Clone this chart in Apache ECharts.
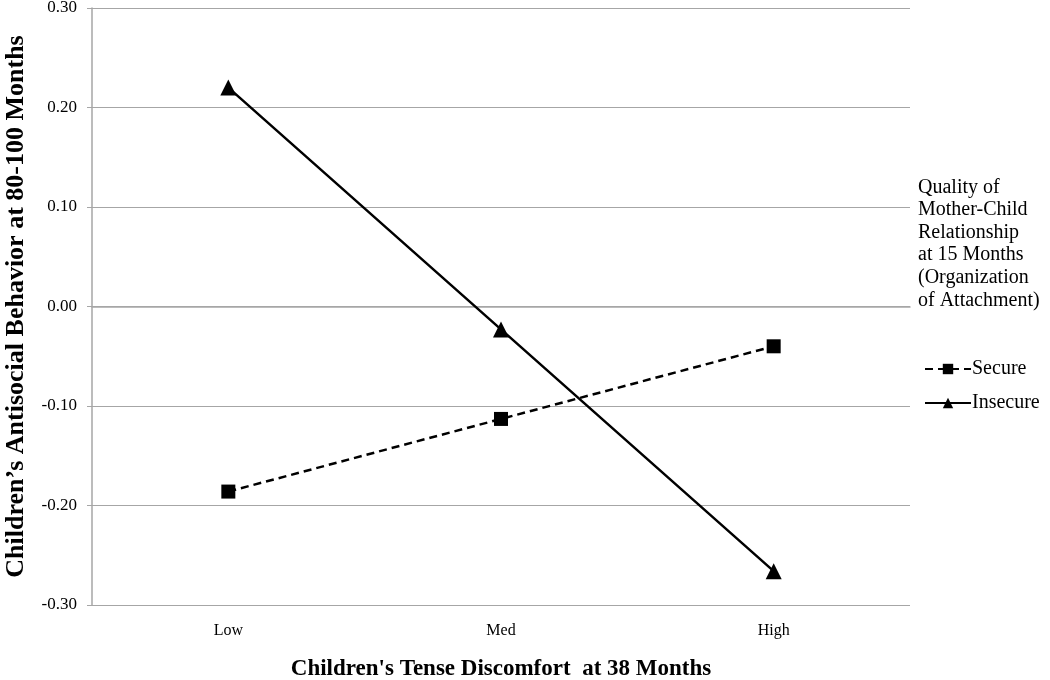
<!DOCTYPE html>
<html><head><meta charset="utf-8">
<script src="https://cdn.jsdelivr.net/npm/echarts@6/dist/echarts.min.js"></script>
<style>html,body{margin:0;padding:0;background:#fff}#c{width:1050px;height:680px}</style>
</head><body><div id="c"></div>
<script>
const categories = ['Low', 'Med', 'High'];
const secure = [-0.186, -0.113, -0.040];
const insecure = [0.220, -0.023, -0.266];
const yTicks = [-0.3, -0.2, -0.1, 0, 0.1, 0.2, 0.3];
const legendTitle = ['Quality of', 'Mother-Child', 'Relationship', 'at 15 Months', '(Organization', 'of Attachment)'];

const font = '"Liberation Serif", "Times New Roman", serif';
const chart = echarts.init(document.getElementById('c'), null, {renderer: 'canvas'});
chart.setOption({
  animation: false,
  backgroundColor: '#fff',
  grid: {left: 92, right: 140, top: 8, bottom: 75, containLabel: false, outerBoundsMode: 'none'},
  xAxis: {
    type: 'category', data: categories, boundaryGap: true,
    axisLine: {lineStyle: {color: '#a6a6a6', width: 1.5}},
    axisTick: {show: false},
    axisLabel: {fontFamily: font, fontSize: 16, color: '#000', margin: 18},
    name: "Children's Tense Discomfort  at 38 Months", nameLocation: 'middle', nameGap: 53,
    nameTextStyle: {fontFamily: font, fontSize: 23, fontWeight: 'bold', color: '#000'}
  },
  yAxis: {
    type: 'value', min: yTicks[0], max: yTicks[yTicks.length-1], interval: 0.1,
    axisLine: {show: true, lineStyle: {color: '#a6a6a6', width: 1.5}},
    axisTick: {show: true, inside: false, length: 5, lineStyle: {color: '#a6a6a6'}},
    splitLine: {lineStyle: {color: '#a6a6a6', width: 1}},
    axisLabel: {fontFamily: font, fontSize: 17, color: '#000', margin: 15,
      formatter: v => v.toFixed(2)},
    name: "Children’s Antisocial Behavior at 80-100 Months", nameLocation: 'middle', nameGap: 63,
    nameTextStyle: {fontFamily: font, fontSize: 26, fontWeight: 'bold', color: '#000'}
  },
  legend: {
    orient: 'vertical', left: 919, top: 354, itemGap: 14, itemWidth: 46, itemHeight: 13,
    textStyle: {fontFamily: font, fontSize: 20, color: '#000', padding: [0,0,0,-4]},
    data: ['Secure', 'Insecure']
  },
  graphic: [{
    type: 'text', left: 918, top: 176,
    style: {text: legendTitle.join('\n'), font: '20px ' + font, lineHeight: 22.6, fill: '#000'}
  }],
  series: [
    {name: 'Secure', type: 'line', data: secure, symbol: 'rect', symbolSize: 14,
     lineStyle: {color: '#000', width: 2.5, type: [8, 5]}, itemStyle: {color: '#000'}},
    {name: 'Insecure', type: 'line', data: insecure, symbol: 'triangle', symbolSize: 16,
     lineStyle: {color: '#000', width: 2.5}, itemStyle: {color: '#000'}}
  ]
});
</script></body></html>
